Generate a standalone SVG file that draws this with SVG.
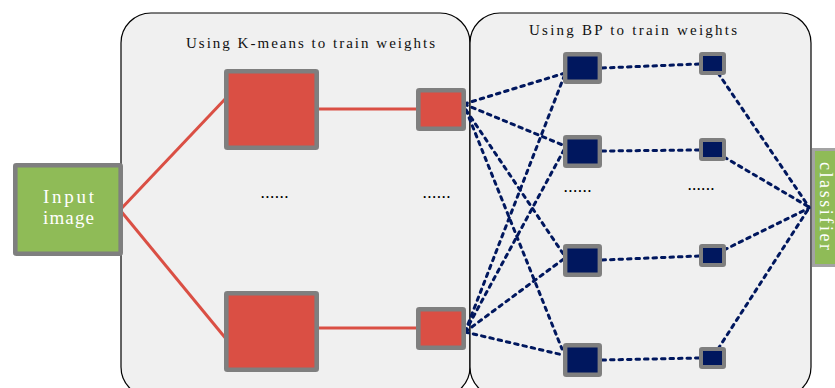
<svg xmlns="http://www.w3.org/2000/svg" width="835" height="388" viewBox="0 0 835 388">
  <style>
    .panel { fill: #f0f0f0; stroke: #000; stroke-width: 1.2; }
    .red { fill: #da4f44; stroke: #7f7f7f; stroke-width: 4.6; }
    .navy { fill: #00175e; stroke: #7f7f7f; stroke-width: 4.4; }
    .navy-s { fill: #00175e; stroke: #7f7f7f; stroke-width: 4; }
    .green { fill: #8fbb57; stroke: #7f7f7f; stroke-width: 4.6; }
    .redline { stroke: #da4f44; stroke-width: 3; fill: none; }
    .dash { stroke: #00175e; stroke-width: 3; fill: none; stroke-dasharray: 3.5 5; stroke-linecap: round; }
    .title { font-family: "Liberation Serif", serif; font-size: 15px; fill: #111; }
    .label { font-family: "Liberation Serif", serif; fill: #fff; }
    .dots { font-family: "Liberation Sans", sans-serif; font-size: 12px; font-weight: bold; fill: #000; }
  </style>

  <!-- training stages -->
  <g id="kmeans-panel">
    <rect class="panel" x="121" y="13" width="349" height="384" rx="30" ry="30"/>
    <text class="title" x="186" y="48" textLength="249" lengthAdjust="spacing">Using K-means to train weights</text>
  </g>
  <g id="bp-panel">
    <rect class="panel" x="470" y="13" width="341" height="384" rx="30" ry="30"/>
    <text class="title" x="529" y="35" textLength="208" lengthAdjust="spacing">Using BP to train weights</text>
  </g>

  <!-- connectors -->
  <g id="connectors">
    <line class="redline" x1="120" y1="210" x2="227" y2="97"/>
    <line class="redline" x1="120" y1="210" x2="227" y2="340"/>
    <line class="redline" x1="319" y1="109" x2="418" y2="109"/>
    <line class="redline" x1="319" y1="328" x2="418" y2="328"/>

    <line class="dash" x1="464" y1="104" x2="565" y2="73"/>
    <line class="dash" x1="464" y1="104" x2="565" y2="146"/>
    <line class="dash" x1="466" y1="110" x2="564" y2="255"/>
    <line class="dash" x1="466" y1="110" x2="562" y2="349"/>

    <line class="dash" x1="465" y1="332" x2="565" y2="74"/>
    <line class="dash" x1="465" y1="332" x2="565" y2="148"/>
    <line class="dash" x1="465" y1="332" x2="565" y2="258"/>
    <line class="dash" x1="465" y1="332" x2="563" y2="355"/>

    <line class="dash" x1="602" y1="68" x2="699" y2="64"/>
    <line class="dash" x1="602" y1="151" x2="699" y2="150"/>
    <line class="dash" x1="602" y1="260" x2="699" y2="256"/>
    <line class="dash" x1="602" y1="360" x2="699" y2="358"/>

    <line class="dash" x1="718" y1="73" x2="809" y2="207"/>
    <line class="dash" x1="724" y1="157" x2="809" y2="207"/>
    <line class="dash" x1="724" y1="250" x2="809" y2="208"/>
    <line class="dash" x1="718" y1="349" x2="809" y2="208"/>
  </g>

  <!-- input -->
  <g id="input-image">
    <rect class="green" x="15.3" y="165.3" width="105.4" height="88.4" rx="1"/>
    <text class="label" x="43" y="203" font-size="19" textLength="51" lengthAdjust="spacing">Input</text>
    <text class="label" x="43" y="224" font-size="19" textLength="51" lengthAdjust="spacing">image</text>
  </g>

  <!-- K-means layers -->
  <g id="kmeans-big-1"><rect class="red" x="226.3" y="71.3" width="90.4" height="76.4" rx="1"/></g>
  <g id="kmeans-big-2"><rect class="red" x="226.3" y="293.3" width="90.4" height="76.4" rx="1"/></g>
  <g id="kmeans-small-1"><rect class="red" x="418.3" y="90.3" width="45.4" height="38.4" rx="1"/></g>
  <g id="kmeans-small-2"><rect class="red" x="418.3" y="309.3" width="45.4" height="38.4" rx="1"/></g>

  <!-- BP layers -->
  <g id="bp-hidden-1"><rect class="navy" x="565.2" y="54.2" width="34.6" height="27.6" rx="1"/></g>
  <g id="bp-hidden-2"><rect class="navy" x="565.2" y="137.2" width="34.6" height="28.6" rx="1"/></g>
  <g id="bp-hidden-3"><rect class="navy" x="565.2" y="246.2" width="34.6" height="28.6" rx="1"/></g>
  <g id="bp-hidden-4"><rect class="navy" x="565.2" y="345.2" width="34.6" height="29.6" rx="1"/></g>

  <g id="bp-out-1"><rect class="navy-s" x="701" y="54" width="23" height="19" rx="1"/></g>
  <g id="bp-out-2"><rect class="navy-s" x="701" y="140" width="23" height="19" rx="1"/></g>
  <g id="bp-out-3"><rect class="navy-s" x="701" y="246" width="23" height="19" rx="1"/></g>
  <g id="bp-out-4"><rect class="navy-s" x="701" y="349" width="23" height="18" rx="1"/></g>

  <!-- ellipsis markers -->
  <g id="ellipses">
    <text class="dots" x="261" y="198" textLength="27" lengthAdjust="spacing">......</text>
    <text class="dots" x="423" y="198" textLength="27" lengthAdjust="spacing">......</text>
    <text class="dots" x="564" y="192" textLength="27" lengthAdjust="spacing">......</text>
    <text class="dots" x="688" y="190" textLength="26" lengthAdjust="spacing">......</text>
  </g>

  <!-- classifier -->
  <g id="classifier">
    <rect x="813.5" y="149.5" width="30" height="116" fill="#8fbb57" stroke="#a3a3a3" stroke-width="3"/>
    <text class="label" font-size="18" transform="translate(820 162) rotate(90)" textLength="88" lengthAdjust="spacing">classifier</text>
  </g>
</svg>
